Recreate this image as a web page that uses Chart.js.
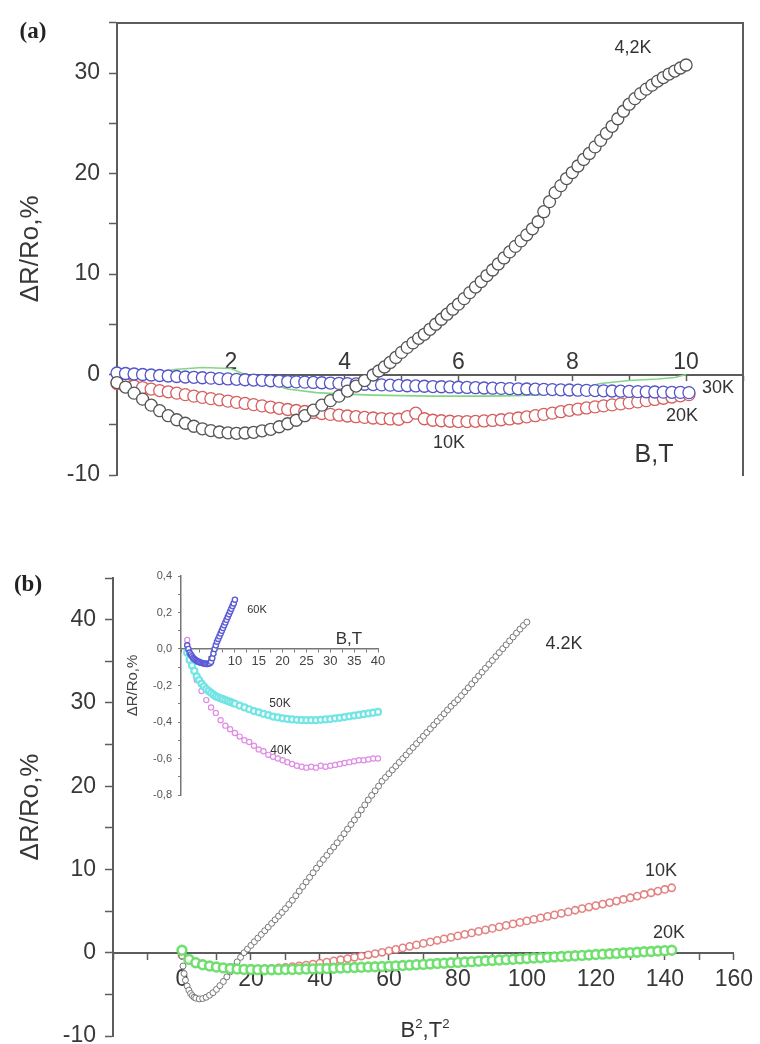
<!DOCTYPE html>
<html>
<head>
<meta charset="utf-8">
<script src="https://cdn.jsdelivr.net/npm/chart.js@4.4.1/dist/chart.umd.min.js"></script>
<style>
  html, body { margin: 0; padding: 0; background: #fff; }
  #page { position: relative; width: 760px; height: 1044px; overflow: hidden;
          font-family: "Liberation Sans", Arial, sans-serif; color: #333; }
  canvas { position: absolute; }
  .lbl { position: absolute; transform: translate(-50%, -50%); white-space: nowrap; line-height: 1; }
  .panel { font-family: "Liberation Serif", "Times New Roman", serif; font-weight: bold; font-size: 23px; color: #222; }
  .lbl sup { font-size: 60%; vertical-align: 0.7em; }
</style>
</head>
<body>
<div id="page">
  <canvas id="chartA" width="760" height="500" style="left:0;top:0;width:760px;height:500px"></canvas>
  <canvas id="chartB" width="760" height="530" style="left:0;top:540px;width:760px;height:530px"></canvas>
  <canvas id="chartInset" width="300" height="250" style="left:100px;top:560px;width:300px;height:250px"></canvas>

  <div class="lbl panel" style="left:33px;top:30px">(a)</div>
  <div class="lbl" style="left:633px;top:47px;font-size:18px">4,2K</div>
  <div class="lbl" style="left:718px;top:387px;font-size:18px">30K</div>
  <div class="lbl" style="left:682px;top:415px;font-size:18px">20K</div>
  <div class="lbl" style="left:449px;top:442px;font-size:18px">10K</div>
  <div class="lbl" style="left:654px;top:453px;font-size:25px">B,T</div>

  <div class="lbl panel" style="left:28px;top:583px">(b)</div>
  <div class="lbl" style="left:564px;top:643px;font-size:18px">4.2K</div>
  <div class="lbl" style="left:661px;top:870px;font-size:18px">10K</div>
  <div class="lbl" style="left:669px;top:932px;font-size:18px">20K</div>
  <div class="lbl" style="left:425px;top:1029px;font-size:22px">B<sup>2</sup>,T<sup>2</sup></div>

  <div class="lbl" style="left:257px;top:609px;font-size:11px">60K</div>
  <div class="lbl" style="left:280px;top:703px;font-size:12px">50K</div>
  <div class="lbl" style="left:281px;top:750px;font-size:12px">40K</div>
  <div class="lbl" style="left:349px;top:638px;font-size:17px">B,T</div>
</div>

<script>
// ---------- panel (a): magnetoresistance vs field B (T) ----------
const field42a = [0,0.15,0.3,0.45,0.6,0.75,0.9,1.05,1.2,1.35,1.5,1.65,1.8,1.95,2.1,2.25,2.4,2.55,2.7,2.85,
  3,3.15,3.3,3.45,3.6,3.75,3.9,4.05,4.2,4.35,4.5,
  4.6,4.7,4.8,4.9,5,5.1,5.2,5.3,5.4,5.5,5.6,5.7,5.8,5.9,6,6.1,6.2,6.3,6.4,6.5,6.6,6.7,6.8,6.9,
  7,7.1,7.2,7.3,7.4,7.5,7.6,7.7,7.8,7.9,8,8.1,8.2,8.3,8.4,8.5,8.6,8.7,8.8,8.9,
  9,9.1,9.2,9.3,9.4,9.5,9.6,9.7,9.8,9.9,10];
const dr42a = [-0.8,-1.25,-1.85,-2.45,-3.05,-3.6,-4.1,-4.5,-4.85,-5.15,-5.4,-5.58,-5.72,-5.8,-5.85,-5.82,-5.75,-5.6,-5.45,-5.2,
  -4.9,-4.55,-4.1,-3.55,-3.05,-2.6,-2.15,-1.65,-1.15,-0.6,-0.05,
  0.35,0.75,1.2,1.7,2.2,2.7,3.15,3.6,4.0,4.5,5.0,5.5,6.0,6.5,7.0,7.55,8.15,8.7,9.25,9.85,10.4,11.0,11.6,12.2,
  12.75,13.3,13.9,14.5,15.2,16.2,17.2,18.1,18.8,19.5,20.1,20.75,21.4,22.0,22.65,23.3,24.0,24.7,25.45,26.2,
  26.9,27.45,27.95,28.4,28.8,29.2,29.55,29.9,30.2,30.5,30.8];

const fieldA = [0,0.15,0.3,0.45,0.6,0.75,0.9,1.05,1.2,1.35,1.5,1.65,1.8,1.95,2.1,2.25,2.4,2.55,2.7,2.85,
  3,3.15,3.3,3.45,3.6,3.75,3.9,4.05,4.2,4.35,4.5,4.65,4.8,4.95,5.1,5.25,5.4,5.55,5.7,5.85,
  6,6.15,6.3,6.45,6.6,6.75,6.9,7.05,7.2,7.35,7.5,7.65,7.8,7.95,8.1,8.25,8.4,8.55,8.7,8.85,
  9,9.15,9.3,9.45,9.6,9.75,9.9,10.05];

const dr30a = [0.15,0.1,0.05,0.0,-0.05,-0.1,-0.15,-0.2,-0.25,-0.28,-0.32,-0.36,-0.4,-0.44,-0.48,-0.52,-0.55,-0.58,-0.62,-0.66,
  -0.7,-0.73,-0.76,-0.79,-0.82,-0.85,-0.88,-0.91,-0.94,-0.97,-1.0,-1.03,-1.06,-1.09,-1.12,-1.14,-1.17,-1.2,-1.22,-1.24,
  -1.27,-1.29,-1.31,-1.34,-1.36,-1.38,-1.4,-1.42,-1.44,-1.46,-1.48,-1.5,-1.52,-1.54,-1.56,-1.58,-1.6,-1.62,-1.64,-1.66,
  -1.68,-1.7,-1.72,-1.74,-1.75,-1.77,-1.78,-1.8];

const dr10a = [-0.9,-1.0,-1.15,-1.3,-1.45,-1.6,-1.72,-1.85,-2.0,-2.15,-2.28,-2.4,-2.52,-2.65,-2.77,-2.88,-3.0,-3.12,-3.24,-3.36,
  -3.48,-3.58,-3.68,-3.78,-3.88,-3.97,-4.05,-4.13,-4.2,-4.27,-4.33,-4.38,-4.42,-4.45,-4.2,-3.85,-4.4,-4.55,-4.6,-4.65,
  -4.68,-4.68,-4.66,-4.62,-4.57,-4.5,-4.42,-4.33,-4.22,-4.1,-3.97,-3.84,-3.7,-3.56,-3.44,-3.33,-3.22,-3.12,-3.02,-2.92,
  -2.82,-2.72,-2.6,-2.48,-2.36,-2.24,-2.12,-2.0];

const field20a = [0,0.5,1,1.5,2,2.5,3,3.5,4,4.5,5,5.5,6,6.5,7,7.5,8,8.5,9,9.5,9.8,10];
const dr20a = [-0.7,-0.2,0.5,0.7,0.6,-0.6,-1.45,-1.8,-1.95,-2.05,-2.1,-2.15,-2.15,-2.15,-2.1,-2.0,-1.55,-0.9,-0.6,-0.45,-0.3,0.0];

// ---------- panel (b): magnetoresistance vs B^2 (T^2) ----------
const fieldB42 = [0,0.3,0.6,1,1.5,2,2.5,3,3.5,4,
  5,6,7,8,9,10,11,12,13,14,15,16,17,18,19,20,21,22,23,24,
  25,26,27,28,29,30,31,32,33,34,35,36,37,38,39,40,41,42,43,44,
  45,46,47,48,49,50,51,52,53,54,55,56,57,58,59,60,61,62,63,64,
  65,66,67,68,69,70,71,72,73,74,75,76,77,78,79,80,81,82,83,84,
  85,86,87,88,89,90,91,92,93,94,95,96,97,98,99,100];
const dr42b = [-0.4,-1.6,-2.5,-3.3,-4.0,-4.5,-4.9,-5.15,-5.35,-5.45,
  -5.55,-5.5,-5.35,-5.1,-4.8,-4.4,-3.95,-3.45,-2.9,-2.3,
  -1.7,-1.1,-0.55,0.0,0.44,0.88,1.32,1.76,2.2,2.64,
  3.08,3.52,3.96,4.4,4.84,5.3,5.8,6.3,6.85,7.4,
  7.95,8.5,9.05,9.6,10.15,10.7,11.2,11.7,12.2,12.7,
  13.2,13.75,14.3,14.85,15.4,15.95,16.55,17.15,17.75,18.35,
  18.9,19.45,20.0,20.6,21.05,21.5,21.95,22.4,22.85,23.3,
  23.75,24.2,24.65,25.1,25.55,26.0,26.45,26.9,27.35,27.8,
  28.25,28.7,29.15,29.6,30.0,30.4,30.87,31.34,31.81,32.28,
  32.75,33.22,33.69,34.16,34.63,35.1,35.57,36.04,36.51,36.98,
  37.45,37.92,38.39,38.86,39.3,39.7];

const fieldB = [0,2,4,6,8,10,12,14,16,18,20,22,24,26,28,30,32,34,36,38,
  40,42,44,46,48,50,52,54,56,58,60,62,64,66,68,70,72,74,76,78,
  80,82,84,86,88,90,92,94,96,98,100,102,104,106,108,110,112,114,116,118,
  120,122,124,126,128,130,132,134,136,138,140,142];
const dr10b = [-0.3,-0.8,-1.1,-1.35,-1.55,-1.7,-1.8,-1.88,-1.93,-1.96,
  -1.97,-1.96,-1.93,-1.88,-1.82,-1.75,-1.67,-1.58,-1.48,-1.37,
  -1.25,-1.12,-0.98,-0.84,-0.7,-0.55,-0.4,-0.25,-0.1,0.05,
  0.22,0.4,0.58,0.76,0.94,1.12,1.3,1.48,1.66,1.84,
  2.02,2.2,2.38,2.56,2.74,2.92,3.1,3.28,3.46,3.64,
  3.82,4.0,4.18,4.36,4.54,4.72,4.9,5.1,5.3,5.48,
  5.66,5.84,6.02,6.2,6.4,6.6,6.8,7.0,7.2,7.4,
  7.6,7.8];
const dr20b = [0.3,-0.8,-1.2,-1.45,-1.6,-1.72,-1.82,-1.9,-1.96,-2.0,
  -2.02,-2.03,-2.04,-2.04,-2.03,-2.02,-2.0,-1.98,-1.96,-1.94,
  -1.92,-1.9,-1.87,-1.84,-1.81,-1.78,-1.75,-1.72,-1.69,-1.66,
  -1.63,-1.58,-1.54,-1.49,-1.44,-1.4,-1.35,-1.3,-1.26,-1.21,
  -1.16,-1.12,-1.07,-1.02,-0.97,-0.93,-0.88,-0.83,-0.79,-0.74,
  -0.69,-0.64,-0.6,-0.55,-0.5,-0.46,-0.41,-0.36,-0.32,-0.27,
  -0.22,-0.17,-0.13,-0.08,-0.03,0.01,0.06,0.11,0.15,0.2,
  0.25,0.3];

// ---------- inset: higher temperatures vs B ----------
const field60 = [0,0.25,0.5,0.75,1,1.25,1.5,1.75,2,2.25,2.5,2.75,3,3.25,3.5,3.75,4,4.25,4.5,4.75,
  5,5.25,5.5,5.75,6,6.25,6.5,6.75,7,7.25,7.5,7.75,8,8.25,8.5,8.75,9,9.25,9.5,9.75,10];
const dr60 = [0.02,0.0,-0.02,-0.03,-0.04,-0.05,-0.055,-0.06,-0.065,-0.07,-0.07,-0.075,-0.075,-0.078,-0.08,-0.08,-0.082,-0.082,-0.08,-0.078,
  -0.07,-0.05,-0.025,0.0,0.02,0.04,0.055,0.07,0.085,0.1,0.115,0.13,0.145,0.16,0.175,0.19,0.205,0.22,0.235,0.25,0.27];

const field50 = [0,0.5,1,1.5,2,2.5,3,3.5,4,4.5,5,5.5,6,6.5,7,7.5,8,8.5,9,9.5,
  10,11,12,13,14,15,16,17,18,19,20,21,22,23,24,25,26,27,28,29,30,31,32,33,34,35,36,37,38,39,40];
const dr50 = [-0.02,-0.06,-0.09,-0.12,-0.15,-0.17,-0.19,-0.205,-0.22,-0.23,-0.24,-0.25,-0.26,-0.265,-0.27,-0.275,-0.28,-0.285,-0.29,-0.295,
  -0.3,-0.31,-0.32,-0.33,-0.34,-0.347,-0.355,-0.362,-0.37,-0.375,
  -0.38,-0.383,-0.386,-0.388,-0.39,-0.39,-0.39,-0.39,-0.388,-0.386,
  -0.384,-0.38,-0.377,-0.373,-0.369,-0.365,-0.361,-0.357,-0.353,-0.349,-0.345];

const field40 = [0,1,2,3,4,5,6,7,8,9,10,11,12,13,14,15,16,17,18,19,
  20,21,22,23,24,25,26,27,28,29,30,31,32,33,34,35,36,37,38,39,40];
const dr40 = [0.05,-0.08,-0.17,-0.23,-0.28,-0.32,-0.35,-0.39,-0.42,-0.44,
  -0.46,-0.48,-0.5,-0.51,-0.53,-0.55,-0.56,-0.58,-0.59,-0.6,
  -0.61,-0.62,-0.63,-0.64,-0.645,-0.65,-0.645,-0.65,-0.64,-0.645,
  -0.64,-0.635,-0.63,-0.625,-0.62,-0.615,-0.61,-0.61,-0.605,-0.6,-0.6];

// ---------- shared styling ----------
const FONT = '"Liberation Sans", Arial, sans-serif';
const AXIS = '#5c5c5c';
const TXT = '#383838';
Chart.defaults.font.family = FONT;
Chart.defaults.color = TXT;

function pts(xs, ys) { return xs.map((x, i) => ({ x: x, y: ys[i] })); }

function rings(xs, ys, color, r, bw) {
  return {
    data: pts(xs, ys), showLine: false, clip: false,
    pointStyle: 'circle', pointRadius: r, pointHoverRadius: r,
    pointBorderWidth: bw, pointBorderColor: color, pointBackgroundColor: '#ffffff'
  };
}

// bare axis line used for the frame of panel (a)
function frameAxis(position) {
  return {
    type: 'linear', position: position,
    afterFit: s => { if (position === 'top') s.height = 0; else s.width = 0; },
    border: { color: AXIS, width: 2 },
    grid: { display: true, drawOnChartArea: false, drawTicks: false },
    ticks: { display: false }
  };
}

const baseOpts = {
  responsive: false, animation: false, events: [],
  plugins: { legend: { display: false }, tooltip: { enabled: false } }
};

// ---------- chart (a) ----------
new Chart(document.getElementById('chartA'), {
  type: 'scatter',
  data: {
    datasets: [
      rings(field42a, dr42a, '#555555', 6, 1.3),
      rings(fieldA, dr30a, '#5454c8', 6, 1.3),
      rings(fieldA, dr10a, '#d65e5e', 6, 1.3),
      { data: pts(field20a, dr20a), showLine: true, borderColor: '#84d684', borderWidth: 1.6, pointRadius: 0, clip: false }
    ]
  },
  options: Object.assign({}, baseOpts, {
    layout: { padding: { left: 0, top: 14, right: 17, bottom: 25 } },
    scales: {
      x: {
        type: 'linear', position: { y: 0 }, min: 0, max: 11,
        afterFit: s => { s.height = 0; },
        border: { color: AXIS, width: 2 },
        grid: { drawOnChartArea: false, tickLength: 5, color: AXIS, tickWidth: 1.5 },
        ticks: { stepSize: 1, autoSkip: false, maxRotation: 0, padding: -31,
                 font: { size: 23 }, color: TXT,
                 callback: v => (v > 0 && v % 2 === 0) ? String(v) : '' }
      },
      y: {
        type: 'linear', position: 'left', min: -10, max: 35,
        afterFit: s => { s.width = 117; },
        border: { color: AXIS, width: 2 },
        grid: { drawOnChartArea: false, tickLength: 8, color: AXIS, tickWidth: 1.5 },
        ticks: { stepSize: 5, autoSkip: false, padding: 9, font: { size: 23 }, color: TXT,
                 callback: v => (v % 10 === 0 && v < 35) ? String(v) : '' },
        title: { display: true, text: 'ΔR/Ro,%', font: { size: 26 }, color: TXT, padding: { top: 15, bottom: 0 } }
      },
      xTop: frameAxis('top'),
      yRight: frameAxis('right')
    }
  })
});

// ---------- chart (b) ----------
new Chart(document.getElementById('chartB'), {
  type: 'scatter',
  data: {
    datasets: [
      rings(fieldB, dr20b, 'rgba(105,222,105,0.95)', 4.4, 2.6),
      rings(fieldB42, dr42b, '#777777', 3, 1),
      rings(fieldB, dr10b, 'rgba(226,118,118,0.9)', 3.6, 1.6)
    ]
  },
  options: Object.assign({}, baseOpts, {
    layout: { padding: { left: 0, top: 38, right: 23, bottom: 34 } },
    scales: {
      x: {
        type: 'linear', position: { y: 0 }, min: -20, max: 160,
        afterFit: s => { s.height = 0; },
        border: { color: AXIS, width: 2 },
        grid: { drawOnChartArea: false, tickLength: 6, color: AXIS, tickWidth: 1.5 },
        ticks: { stepSize: 10, autoSkip: false, maxRotation: 0, padding: 7,
                 font: { size: 23 }, color: TXT,
                 callback: v => (v >= 0 && v % 20 === 0) ? String(v) : '' }
      },
      y: {
        type: 'linear', position: 'left', min: -10, max: 45,
        afterFit: s => { s.width = 113; },
        border: { color: AXIS, width: 2 },
        grid: { drawOnChartArea: false, tickLength: 8, color: AXIS, tickWidth: 1.5 },
        ticks: { stepSize: 5, autoSkip: false, padding: 9, font: { size: 23 }, color: TXT,
                 callback: v => (v % 10 === 0 && v < 45) ? String(v) : '' },
        title: { display: true, text: 'ΔR/Ro,%', font: { size: 26 }, color: TXT, padding: { top: 15, bottom: 0 } }
      }
    }
  })
});

// ---------- inset ----------
new Chart(document.getElementById('chartInset'), {
  type: 'scatter',
  data: {
    datasets: [
      rings(field60, dr60, '#5a5ad6', 2.6, 1.4),
      rings(field50, dr50, 'rgba(110,228,228,0.95)', 3, 2.2),
      rings(field40, dr40, '#e08ce6', 2.6, 1.2)
    ]
  },
  options: Object.assign({}, baseOpts, {
    layout: { padding: { left: 0, top: 16, right: 22, bottom: 15 } },
    scales: {
      x: {
        type: 'linear', position: { y: 0 }, min: -1.3, max: 40,
        afterFit: s => { s.height = 0; },
        border: { color: '#777', width: 1.5 },
        grid: { drawOnChartArea: false, tickLength: 3, color: '#777' },
        ticks: { stepSize: 2.5, autoSkip: false, maxRotation: 0, padding: 2,
                 font: { size: 13 }, color: '#444',
                 callback: v => (v >= 0 && Math.abs(v % 5) < 1e-9) ? String(v) : '' }
      },
      y: {
        type: 'linear', position: 'left', min: -0.8, max: 0.4,
        afterFit: s => { s.width = 81; },
        border: { color: '#777', width: 1.5 },
        grid: { drawOnChartArea: false, tickLength: 3, color: '#777' },
        ticks: { stepSize: 0.1, autoSkip: false, padding: 6, font: { size: 11 }, color: '#555',
                 callback: v => { const k = Math.round(v * 10); return (k % 2 === 0) ? (k / 10).toFixed(1).replace('.', ',') : ''; } },
        title: { display: true, text: 'ΔR/Ro,%', font: { size: 15 }, color: '#444', padding: { top: 24, bottom: 0 } }
      }
    }
  })
});
</script>
</body>
</html>
